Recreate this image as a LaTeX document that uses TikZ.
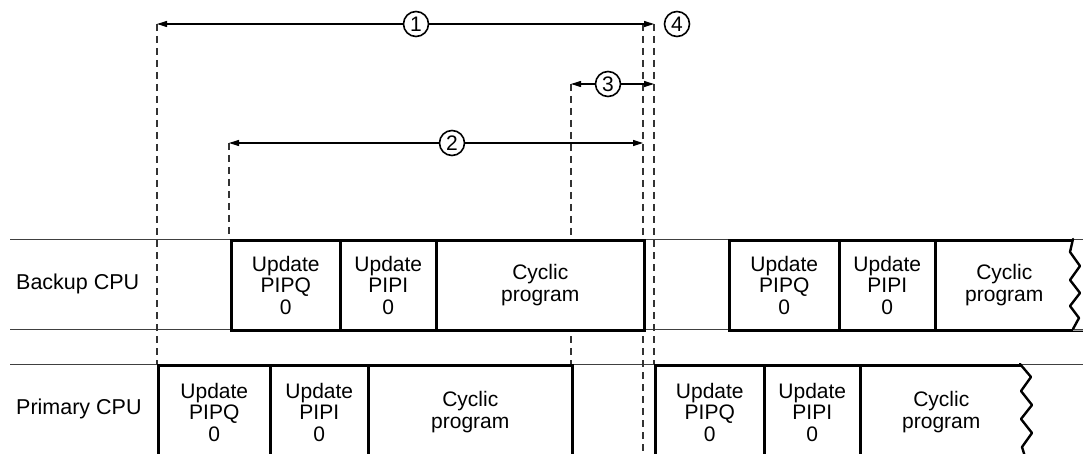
\documentclass[tikz,border=0pt]{standalone}
\usepackage{fontspec}
\setmainfont{Liberation Sans}
\usetikzlibrary{arrows.meta}
\begin{document}
\begin{tikzpicture}[x=1pt,y=-1pt,
  thinline/.style={line width=0.9pt, black!75},
  dashline/.style={line width=1.3pt, dash pattern=on 7pt off 5pt, black!80},
  boxnode/.style={draw, line width=2.6pt, fill=white, align=center, anchor=north west,
    inner sep=0pt, minimum height=90pt, font=\fontsize{21}{21.5}\selectfont},
  zigline/.style={line width=2.4pt, line join=round, line cap=round},
  lbl/.style={anchor=west, inner sep=0pt, font=\fontsize{21.5}{22}\selectfont},
  dim/.style={line width=1.1pt, {Triangle[length=10pt,width=6pt]}-{Triangle[length=10pt,width=6pt]}},
  num/.style={circle, draw, line width=1.6pt, fill=white, minimum size=25pt, inner sep=0pt,
    font=\fontsize{21}{21}\selectfont}
]
\useasboundingbox (0,0) rectangle (1083,454);

% row lines
\coordinate (r1l) at (10,239); \coordinate (r1r) at (1083,239);
\coordinate (r2l) at (10,329); \coordinate (r2r) at (1083,329);
\coordinate (r3l) at (10,364); \coordinate (r3r) at (1083,364);
\draw[thinline] (r1l) -- (r1r);
\draw[thinline] (r2l) -- (r2r);
\draw[thinline] (r3l) -- (r3r);

% dashed guide lines
\coordinate (d1t) at (157,24);  \coordinate (d1b) at (157,364);
\coordinate (d2t) at (229,143); \coordinate (d2b) at (229,239);
\coordinate (d3t) at (571,84);  \coordinate (d3b) at (571,364);
\coordinate (dat) at (643,24);  \coordinate (dab) at (643,458);
\coordinate (dbt) at (654,24);  \coordinate (dbb) at (654,364);
\coordinate (d2r) at (643,143);
\coordinate (d3r) at (654,84);
\draw[dashline] (d1t) -- (d1b);
\draw[dashline] (d2t) -- (d2b);
\draw[dashline] (d3t) -- (d3b);
\draw[dashline] (dat) -- (dab);
\draw[dashline] (dbt) -- (dbb);

% labels
\node[lbl] (backup) at (16,284) {Backup CPU};
\node[lbl] (primary) at (16,409) {Primary CPU};

% backup CPU, first cycle
\node[boxnode, minimum width=109pt] (b1) at (230,239) {Update\\PIPQ\\0};
\node[boxnode, minimum width=96pt] (b2) at (339,239) {Update\\PIPI\\0};
\node[boxnode, minimum width=208pt] (b3) at (435,239) {Cyclic\\program};

% backup CPU, second cycle (right end torn off by a zigzag)
\node[boxnode, minimum width=110pt] (b4) at (728,239) {Update\\PIPQ\\0};
\node[boxnode, minimum width=96pt] (b5) at (838,239) {Update\\PIPI\\0};
\node[boxnode, minimum width=148pt, text width=139pt] (b6) at (934,239)
  {\hspace*{-10pt}Cyclic\\\hspace*{-10pt}program};
\fill[white] (1073,237.3) -- (1073,239) -- (1070,252) -- (1080,266) -- (1070,280) -- (1080,293)
  -- (1070,306) -- (1079,318) -- (1073,329) -- (1073,330.7) -- (1090,330.7) -- (1090,237.3) -- cycle;
\coordinate (z1t) at (1073,239); \coordinate (z1b) at (1073,329);
\draw[thinline] (z1t) -- (r1r);
\draw[thinline] (z1b) -- (r2r);
\draw[zigline] (z1t) -- (1070,252) -- (1080,266) -- (1070,280) -- (1080,293)
  -- (1070,306) -- (1079,318) -- (z1b);

% primary CPU, first cycle
\node[boxnode, minimum width=112pt, minimum height=94pt] (p1) at (157,364) {Update\\PIPQ\\0};
\node[boxnode, minimum width=98pt, minimum height=94pt] (p2) at (269,364) {Update\\PIPI\\0};
\node[boxnode, minimum width=204pt, minimum height=94pt] (p3) at (367,364) {Cyclic\\program};

% primary CPU, second cycle (right end torn off by a zigzag)
\node[boxnode, minimum width=109pt, minimum height=94pt] (p4) at (654,364) {Update\\PIPQ\\0};
\node[boxnode, minimum width=96pt, minimum height=94pt] (p5) at (763,364) {Update\\PIPI\\0};
\node[boxnode, minimum width=186pt, minimum height=94pt, text width=162pt] (p6) at (859,364)
  {\hspace*{-24pt}Cyclic\\\hspace*{-24pt}program};
\fill[white] (1020,362.3) -- (1020,364) -- (1031,377) -- (1021,391) -- (1032,405) -- (1021,419)
  -- (1032,433) -- (1022,447) -- (1026,462) -- (1050,462) -- (1050,362.3) -- cycle;
\coordinate (z2t) at (1020,364); \coordinate (z2b) at (1026,460);
\draw[thinline] (z2t) -- (r3r);
\draw[zigline] (z2t) -- (1031,377) -- (1021,391) -- (1032,405) -- (1021,419)
  -- (1032,433) -- (1022,447) -- (z2b);

% dimension arrows
\draw[dim] (d1t) -- (dbt);
\draw[dim] (d2t) -- (d2r);
\draw[dim] (d3t) -- (d3r);
\node[num] (n1) at (416,24) {1};
\node[num] (n2) at (452,143) {2};
\node[num] (n3) at (608,84) {3};
\node[num] (n4) at (677,24) {4};
\end{tikzpicture}
\end{document}
